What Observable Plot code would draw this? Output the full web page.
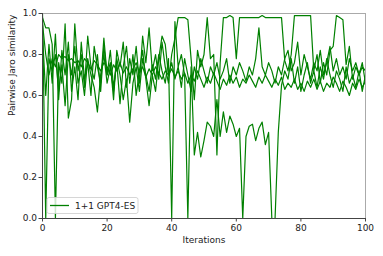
<!DOCTYPE html>
<html>
<head>
<meta charset="utf-8">
<script src="https://cdn.jsdelivr.net/npm/d3@7"></script>
<script src="https://cdn.jsdelivr.net/npm/@observablehq/plot@0.6"></script>
<style>
  html, body { margin: 0; padding: 0; background: #fff; }
</style>
</head>
<body>
<div id="chart"></div>
<script>
const seriesName = "1+1 GPT4-ES";
const xTicks = [0, 20, 40, 60, 80, 100];
const yTicks = [0, 0.2, 0.4, 0.6, 0.8, 1.0];

const s1 = [1.0,0.0,0.78,0.72,0.80,0.62,0.75,0.55,0.80,0.70,0.84,0.66,0.72,0.60,0.78,0.70,0.64,0.52,0.70,0.80,
  0.66,0.74,0.62,0.78,0.70,0.58,0.68,0.47,0.66,0.74,0.62,0.78,0.70,0.62,0.75,0.68,0.80,0.72,0.66,0.78,
  0.0,0.96,0.74,0.80,0.70,0.0,0.74,0.31,0.42,0.30,0.38,0.47,0.45,0.40,0.58,0.40,0.52,0.42,0.50,0.46,
  0.40,0.44,0.0,0.40,0.45,0.46,0.38,0.44,0.47,0.36,0.42,0.0,0.0,0.42,0.65,0.72,0.68,0.78,0.66,0.74,
  0.62,0.70,0.76,0.66,0.72,0.64,0.74,0.68,0.78,0.70,0.64,0.72,0.68,0.62,0.74,0.66,0.70,0.64,0.72,0.62,0.70];
const s2 = [0.98,0.93,0.93,0.85,0.0,0.76,0.66,0.95,0.49,0.58,0.95,0.72,0.80,0.64,0.89,0.74,0.68,0.80,0.62,0.84,
  0.70,0.76,0.58,0.82,0.74,0.86,0.64,0.78,0.70,0.84,0.66,0.89,0.76,0.93,0.72,0.80,0.68,0.86,0.74,0.66,
  0.80,0.88,0.98,0.98,0.98,0.97,0.78,0.58,0.82,0.74,0.80,0.98,0.78,0.80,0.31,0.76,0.98,0.98,0.99,0.98,
  0.78,0.98,0.98,0.98,0.98,0.98,0.98,0.98,0.99,0.98,0.98,0.98,0.98,0.98,0.98,0.77,0.72,0.80,0.99,0.99,
  0.99,0.99,0.99,0.99,0.72,0.80,0.66,0.76,0.70,0.82,0.84,0.99,0.98,0.97,0.75,0.84,0.68,0.74,0.70,0.76,0.66];
const s3 = [0.95,0.80,0.70,0.78,0.74,0.80,0.78,0.79,0.77,0.78,0.76,0.77,0.74,0.78,0.76,0.73,0.77,0.75,0.72,0.76,
  0.74,0.70,0.75,0.72,0.76,0.71,0.74,0.70,0.73,0.76,0.71,0.74,0.69,0.73,0.70,0.74,0.71,0.68,0.72,0.70,
  0.73,0.69,0.72,0.68,0.71,0.66,0.70,0.67,0.72,0.68,0.64,0.69,0.66,0.71,0.67,0.63,0.68,0.65,0.70,0.66,
  0.69,0.64,0.68,0.66,0.70,0.67,0.64,0.69,0.66,0.70,0.67,0.64,0.68,0.65,0.69,0.63,0.66,0.64,0.68,0.63,
  0.66,0.62,0.67,0.64,0.68,0.63,0.67,0.62,0.66,0.64,0.69,0.66,0.62,0.67,0.64,0.60,0.66,0.63,0.68,0.64,0.67];
const s4 = [0.90,0.60,0.85,0.66,0.90,0.58,0.82,0.70,0.86,0.62,0.74,0.58,0.86,0.68,0.76,0.60,0.84,0.74,0.66,0.88,
  0.70,0.82,0.64,0.76,0.56,0.74,0.84,0.66,0.80,0.60,0.72,0.82,0.68,0.55,0.70,0.62,0.78,0.89,0.85,0.70,
  0.76,0.68,0.74,0.64,0.78,0.70,0.62,0.74,0.68,0.78,0.72,0.66,0.74,0.70,0.76,0.68,0.72,0.78,0.66,0.74,
  0.70,0.76,0.72,0.67,0.74,0.70,0.78,0.93,0.74,0.70,0.76,0.72,0.66,0.74,0.70,0.78,0.82,0.72,0.76,0.86,
  0.70,0.80,0.74,0.68,0.76,0.72,0.82,0.70,0.76,0.84,0.72,0.78,0.70,0.74,0.68,0.78,0.72,0.76,0.70,0.74,0.72];

const runs = [s1, s2, s3, s4];
const rows = runs.flatMap((vals, k) => vals.map((v, i) => ({iter: i, value: v, run: k})));

const green = "#008000";
const font = "DejaVu Sans, sans-serif";

const chart = Plot.plot({
  width: 383,
  height: 256,
  marginLeft: 42,
  marginRight: 18,
  marginTop: 13,
  marginBottom: 38,
  style: {fontFamily: font, fontSize: "9px", background: "#fff", color: "#222"},
  x: {domain: [0, 100]},
  y: {domain: [0, 1]},
  marks: [
    Plot.line(rows, {x: "iter", y: "value", z: "run", stroke: green, strokeWidth: 1.2, clip: true}),
    Plot.ruleX([100], {stroke: "#aaa", strokeWidth: 1}),
    Plot.ruleY([1], {stroke: "#aaa", strokeWidth: 1}),
    Plot.ruleX([0], {stroke: "#444", strokeWidth: 1}),
    Plot.ruleY([0], {stroke: "#444", strokeWidth: 1}),
    Plot.axisX({ticks: xTicks, tickSize: 3.5, tickPadding: 2.5, label: null, stroke: "#444", fontSize: 9}),
    Plot.axisY({ticks: yTicks, tickSize: 3.5, tickPadding: 2, tickFormat: d3.format(".1f"), label: null, stroke: "#444", fontSize: 9}),
    Plot.text(["Iterations"], {frameAnchor: "bottom", dy: 24, fontSize: 9, fill: "#222"}),
    Plot.text(["Pairwise Jaro similarity"], {frameAnchor: "left", dx: -30, rotate: -90, fontSize: 9, fill: "#222"})
  ]
});

const svg = d3.select(chart);
const lg = svg.append("g").attr("font-family", font).attr("font-size", "9px").attr("text-anchor", "start");
lg.append("rect").attr("x", 47).attr("y", 197.5).attr("width", 91).attr("height", 16)
  .attr("rx", 2).attr("fill", "#fff").attr("fill-opacity", 0.8).attr("stroke", "#ccc").attr("stroke-width", 0.8);
lg.append("line").attr("x1", 50).attr("x2", 69).attr("y1", 205.5).attr("y2", 205.5)
  .attr("stroke", green).attr("stroke-width", 1.3);
lg.append("text").attr("x", 75).attr("y", 205.5).attr("dy", "0.35em").attr("fill", "#222").text(seriesName);

document.getElementById("chart").appendChild(chart);
</script>
</body>
</html>
